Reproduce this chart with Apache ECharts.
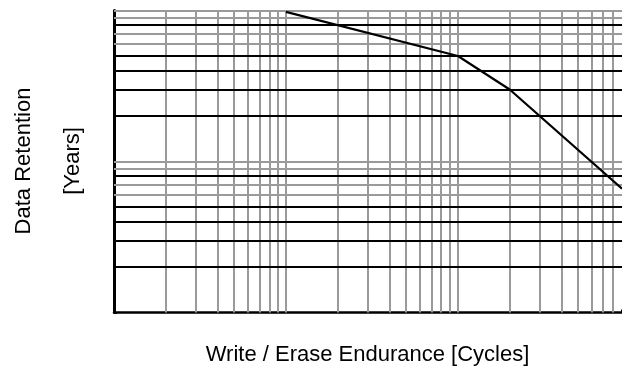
<!DOCTYPE html>
<html>
<head>
<meta charset="utf-8">
<script src="https://cdn.jsdelivr.net/npm/echarts@6/dist/echarts.min.js"></script>
<style>
  html, body { margin: 0; padding: 0; background: #fff; }
  #chart { width: 622px; height: 369px; }
</style>
</head>
<body>
<div id="chart"></div>
<script>
// curve: retention (years) vs. write/erase cycles
var cycles = [1000, 10000, 20000, 90000];
var retention = [98, 50, 30, 6.6];

// log grid values
var xGridValues = [200, 300, 400, 500, 600, 700, 800, 900, 1000,
  2000, 3000, 4000, 5000, 6000, 7000, 8000, 9000, 10000,
  20000, 30000, 40000, 50000, 60000, 70000, 80000];
var yGridValues = [2, 3, 4, 5, 6, 7, 8, 9, 10, 20, 30, 40, 50, 60, 70, 80, 90, 100];
var yDarkMantissa = [2, 3, 4, 5, 8];

var gray = '#9a9a9a';

function mantissa(v) {
  return Math.round(v / Math.pow(10, Math.floor(Math.log10(v) + 1e-9)));
}

var gridLines = [];
xGridValues.forEach(function (v) {
  gridLines.push({ xAxis: v, lineStyle: { color: gray, width: 2, type: 'solid' } });
});
yGridValues.forEach(function (v) {
  var dark = yDarkMantissa.indexOf(mantissa(v)) >= 0;
  gridLines.push({ yAxis: v, lineStyle: { color: dark ? '#000' : gray, width: 2, type: 'solid' } });
});

var chart = echarts.init(document.getElementById('chart'));
var font = '"Liberation Sans", Arial, sans-serif';

chart.setOption({
  animation: false,
  backgroundColor: '#fff',
  grid: { left: 114, right: 0, top: 10.5, bottom: 56.5, containLabel: false },
  xAxis: {
    type: 'log', logBase: 10, min: 100, max: 90000,
    axisLine: { show: true, onZero: false, lineStyle: { color: '#000', width: 2.5 } },
    axisTick: { show: true, inside: true, length: 3, lineStyle: { color: '#000', width: 2 } },
    axisLabel: { show: false },
    splitLine: { show: false }
  },
  yAxis: {
    type: 'log', logBase: 10, min: 1, max: 100,
    axisLine: { show: true, onZero: false, lineStyle: { color: '#000', width: 3 } },
    axisTick: { show: true, inside: true, length: 3, lineStyle: { color: '#000', width: 2 } },
    axisLabel: { show: false },
    splitLine: { show: false }
  },
  graphic: [
    { type: 'text', x: 24, y: 161, rotation: Math.PI / 2,
      style: { text: 'Data Retention', fill: '#000', font: '22px ' + font, align: 'center', verticalAlign: 'middle' } },
    { type: 'text', x: 73, y: 161, rotation: Math.PI / 2,
      style: { text: '[Years]', fill: '#000', font: '22px ' + font, align: 'center', verticalAlign: 'middle' } },
    { type: 'text', x: 367.5, y: 355,
      style: { text: 'Write / Erase Endurance [Cycles]', fill: '#000', font: '22px ' + font, align: 'center', verticalAlign: 'middle' } }
  ],
  series: [
    {
      type: 'line',
      data: [],
      silent: true,
      markLine: {
        silent: true,
        symbol: 'none',
        label: { show: false },
        emphasis: { disabled: true },
        data: gridLines
      },
      z: 1
    },
    {
      type: 'line',
      data: cycles.map(function (c, i) { return [c, retention[i]]; }),
      showSymbol: false,
      symbol: 'none',
      lineStyle: { color: '#000', width: 2.2 },
      z: 5
    }
  ]
});
</script>
</body>
</html>
